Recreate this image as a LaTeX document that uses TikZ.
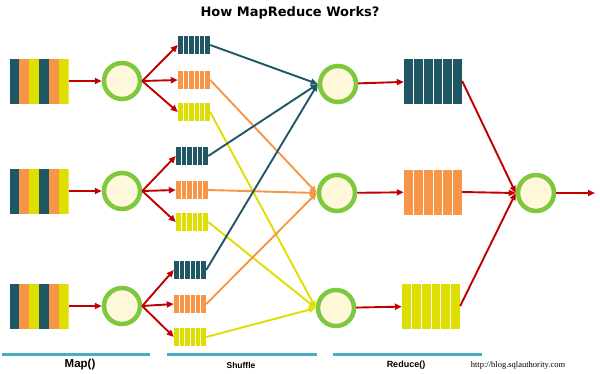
\documentclass[tikz,border=0pt]{standalone}
\usepackage{fontspec}
\setmainfont{Liberation Sans}
\newfontfamily\titlefont{DejaVu Sans}
\newfontfamily\urlfont{Liberation Serif}
\usetikzlibrary{arrows.meta,calc}
\definecolor{mrteal}{RGB}{31,88,100}
\definecolor{mrorange}{RGB}{247,150,70}
\definecolor{mryellow}{RGB}{222,222,0}
\definecolor{mrred}{RGB}{192,0,0}
\definecolor{mrgreen}{RGB}{125,200,60}
\definecolor{mrcream}{RGB}{255,248,218}
\definecolor{mrblue}{RGB}{75,172,198}
\tikzset{
 worker/.style={circle,draw=mrgreen,line width=4.5pt,fill=mrcream,minimum size=36pt,
             inner sep=0pt},
 split/.style={inner sep=0pt,minimum width=59pt,minimum height=45pt,
   path picture={\foreach \c [count=\k from 0] in {mrteal,mrorange,mryellow,mrteal,mrorange,mryellow}
     \fill[\c] ($(path picture bounding box.south west)!{\k/6}!(path picture bounding box.south east)$)
       rectangle ($(path picture bounding box.north west)!{(\k+1.1)/6}!(path picture bounding box.north east)$);}},
 bucket/.style={fill=#1,inner sep=0pt,minimum width=32pt,minimum height=18pt,
   path picture={\foreach \k in {1,...,5}
     \draw[white,line width=1pt] ($(path picture bounding box.south west)!{\k/6}!(path picture bounding box.south east)$)
       -- ($(path picture bounding box.north west)!{\k/6}!(path picture bounding box.north east)$);}},
 bigbucket/.style={bucket=#1,minimum width=58pt,minimum height=45pt},
 redarrow/.style={-{Triangle[length=7pt,width=6pt]},draw=mrred,line width=1.9pt},
 flow/.style={-{Triangle[length=7pt,width=6pt]},draw=#1,line width=1.9pt},
 bar/.style={draw=mrblue,line width=3pt},
 caption/.style={font=\bfseries\fontsize{#1}{#1}\selectfont,inner sep=0pt}
}
\begin{document}
\begin{tikzpicture}[x=1pt,y=-1pt]
\useasboundingbox[fill=white] (0,0) rectangle (600,373);
\node[font=\titlefont\bfseries\fontsize{13}{15}\selectfont] (title) at (290,13) {How MapReduce Works?};
% map
\node[split] (in1) at (39,81) {};
\node[split] (in2) at (39,191) {};
\node[split] (in3) at (39,306) {};
\node[worker] (map1) at (122,81) {};
\node[worker] (map2) at (122,191) {};
\node[worker] (map3) at (122,306) {};
\draw[redarrow] (in1)--(map1);
\draw[redarrow] (in2)--(map2);
\draw[redarrow] (in3)--(map3);
% shuffle buckets
\node[bucket=mrteal] (s1t) at (194,45) {};
\node[bucket=mrorange] (s1o) at (194,80) {};
\node[bucket=mryellow] (s1y) at (194,112) {};
\node[bucket=mrteal] (s2t) at (192,156) {};
\node[bucket=mrorange] (s2o) at (192,190) {};
\node[bucket=mryellow] (s2y) at (192,222) {};
\node[bucket=mrteal] (s3t) at (190,270) {};
\node[bucket=mrorange] (s3o) at (190,304) {};
\node[bucket=mryellow] (s3y) at (190,337) {};
\draw[redarrow] (map1.east)--(s1t.west);
\draw[redarrow] (map1.east)--(s1o.west);
\draw[redarrow] (map1.east)--(s1y.west);
\draw[redarrow] (map2.east)--(s2t.west);
\draw[redarrow] (map2.east)--(s2o.west);
\draw[redarrow] (map2.east)--(s2y.west);
\draw[redarrow] (map3.east)--(s3t.west);
\draw[redarrow] (map3.east)--(s3o.west);
\draw[redarrow] (map3.east)--(s3y.west);
% reduce
\node[worker] (red1) at (338,84) {};
\node[worker] (red2) at (337,193) {};
\node[worker] (red3) at (336,308) {};
\draw[flow=mryellow] (s1y.east)--(red3.west);
\draw[flow=mryellow] (s2y.east)--(red3.west);
\draw[flow=mryellow] (s3y.east)--(red3.west);
\draw[flow=mrorange] (s1o.east)--(red2.west);
\draw[flow=mrorange] (s2o.east)--(red2.west);
\draw[flow=mrorange] (s3o.east)--(red2.west);
\draw[flow=mrteal] (s1t.east)--(red1.west);
\draw[flow=mrteal] (s2t.east)--(red1.west);
\draw[flow=mrteal] (s3t.east)--(red1.west);
\node[bigbucket=mrteal] (out1) at (433,81) {};
\node[bigbucket=mrorange] (out2) at (433,192) {};
\node[bigbucket=mryellow] (out3) at (431,306) {};
\draw[redarrow] (red1)--(out1);
\draw[redarrow] (red2)--(out2);
\draw[redarrow] (red3)--(out3);
\node[worker] (fin) at (536,193) {};
\coordinate (done) at (595,193);
\draw[redarrow] (out1.east)--(fin.west);
\draw[redarrow] (out2.east)--(fin.west);
\draw[redarrow] (out3.east)--(fin.west);
\draw[redarrow] (fin)--(done);
% phases
\draw[bar] (2,354)--(150,354);
\draw[bar] (167,354)--(317,354);
\draw[bar] (333,354)--(482,354);
\node[caption=11.5] (mapcap) at (80,365) {Map()};
\node[caption=8.5] (shufcap) at (241,365) {Shuffle};
\node[caption=9] (redcap) at (406,365) {Reduce()};
\node[font=\urlfont\fontsize{8.5}{9}\selectfont,inner sep=0pt] (url) at (518,365) {http://blog.sqlauthority.com};
\end{tikzpicture}
\end{document}
